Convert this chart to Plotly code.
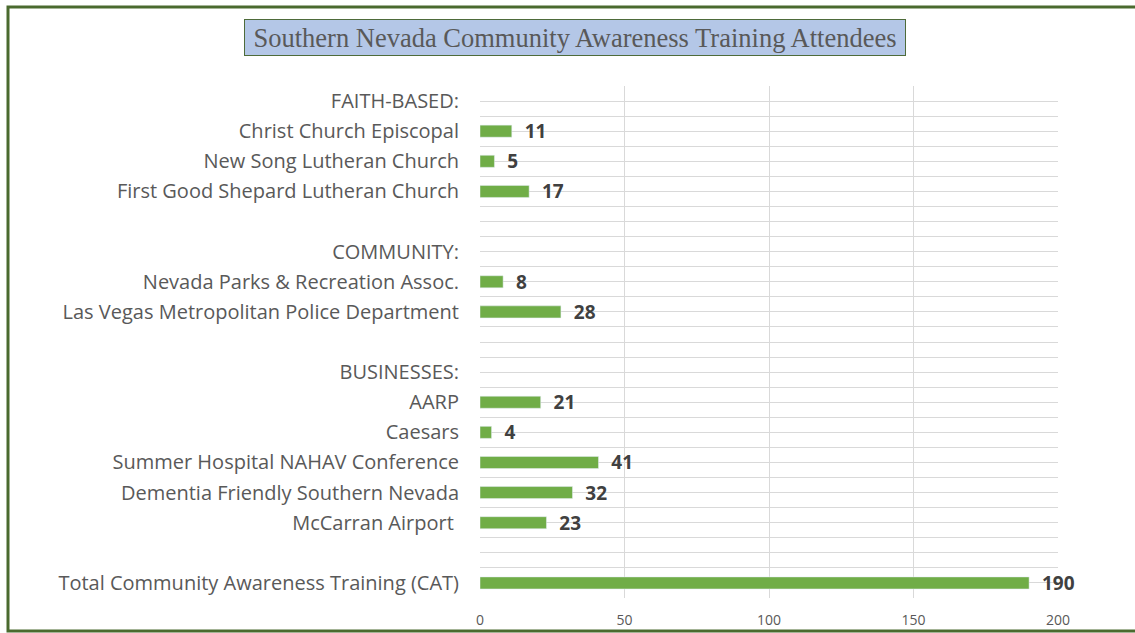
import plotly.graph_objects as go

LABELS = [
    "FAITH-BASED:",
    "Christ Church Episcopal",
    "New Song Lutheran Church",
    "First Good Shepard Lutheran Church",
    "",
    "COMMUNITY:",
    "Nevada Parks & Recreation Assoc.",
    "Las Vegas Metropolitan Police Department",
    "",
    "BUSINESSES:",
    "AARP",
    "Caesars",
    "Summer Hospital NAHAV Conference",
    "Dementia Friendly Southern Nevada",
    "McCarran Airport ",
    "",
    "Total Community Awareness Training (CAT)",
]
VALUES = [None, 11, 5, 17, None, None, 8, 28, None, None, 21, 4, 41, 32, 23, None, 190]
X_TICKS = [0, 50, 100, 150, 200]

BAR_COLOR = "#70AD47"
GRID = "#D9D9D9"
BORDER = "#4A6A2E"
LABEL_FONT = "Open Sans"

W, H = 1135, 633
L, R, T, B = 480, 77, 86, 35
PW, PH = W - L - R, H - T - B


def px_x(p):
    return (p - L) / PW


def px_y(p):
    return (H - B - p) / PH


positions = list(range(len(LABELS)))
texts = ["\u00a0\u00a0" + str(v) if v is not None else "" for v in VALUES]

fig = go.Figure()
fig.add_trace(
    go.Bar(
        x=VALUES,
        y=positions,
        orientation="h",
        width=0.4,
        marker_color=BAR_COLOR,
        text=texts,
        textposition="outside",
        constraintext="none",
        cliponaxis=False,
        textfont=dict(family=LABEL_FONT, size=19, color="#404040", weight="bold"),
        hoverinfo="skip",
    )
)

fig.update_layout(
    width=W,
    height=H,
    margin=dict(l=L, r=R, t=T, b=B),
    paper_bgcolor="white",
    plot_bgcolor="white",
    showlegend=False,
    font=dict(family=LABEL_FONT, color="#595959"),
)

fig.update_xaxes(
    range=[0, 200],
    tickvals=X_TICKS,
    showgrid=True,
    gridcolor=GRID,
    gridwidth=1,
    zeroline=False,
    showline=False,
    automargin=False,
    tickfont=dict(size=14, color="#595959"),
    ticklabelstandoff=12,
)
fig.update_yaxes(
    range=[len(LABELS) - 0.5, -0.5],
    tickmode="array",
    tickvals=positions,
    ticktext=LABELS,
    showgrid=True,
    gridcolor=GRID,
    zeroline=False,
    showline=False,
    automargin=False,
    tickfont=dict(size=20, color="#595959"),
    ticklabelstandoff=20,
    minor=dict(tickmode="linear", tick0=-0.5, dtick=1, showgrid=True, gridcolor=GRID),
)

# outer frame: left, top and bottom edges only (right edge is off the page)
fl, fr, ft, fb = px_x(8), px_x(1200), px_y(7), px_y(631)
fig.add_shape(
    type="path",
    xref="paper",
    yref="paper",
    path=f"M {fr},{ft} L {fl},{ft} L {fl},{fb} L {fr},{fb}",
    line=dict(color=BORDER, width=3),
    layer="above",
)

fig.add_annotation(
    text="Southern Nevada Community Awareness Training Attendees",
    xref="paper",
    yref="paper",
    x=px_x(575),
    y=px_y(37),
    xanchor="center",
    yanchor="middle",
    showarrow=False,
    font=dict(family="Liberation Serif", size=26.5, color="#595959"),
    bgcolor="#B4C7E7",
    bordercolor="#4E6B3A",
    borderwidth=1,
    borderpad=1,
    width=658,
    height=33,
)

fig.write_html(
    "out.html",
    config={"displayModeBar": False},
    post_script="document.body.style.margin='0';",
)
